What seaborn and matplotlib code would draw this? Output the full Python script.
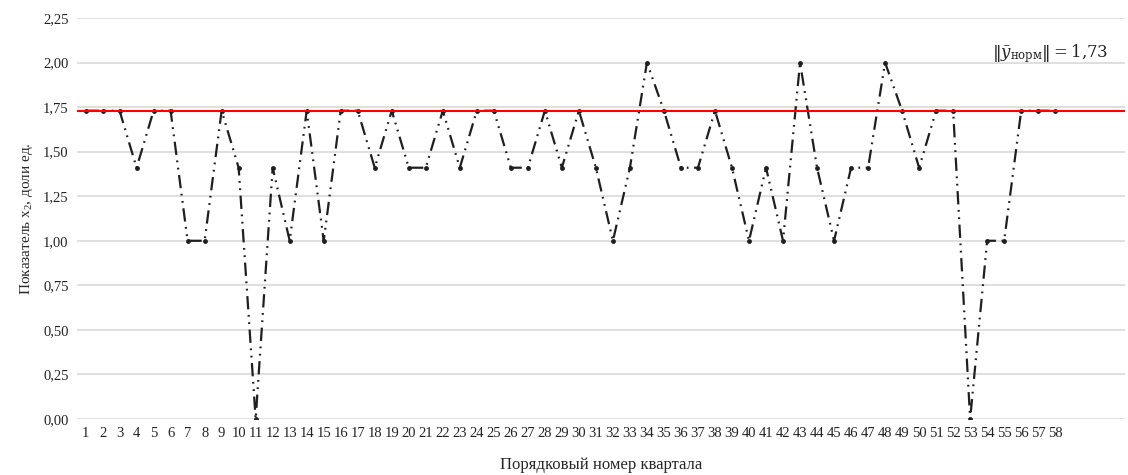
import numpy as np
import pandas as pd
import matplotlib
matplotlib.use("Agg")
import matplotlib.pyplot as plt
import seaborn as sns

# Quarter numbers and indicator x2 values
quarters = list(range(1, 59))
x2_values = [
    1.73, 1.73, 1.73, 1.41, 1.73, 1.73, 1.00, 1.00, 1.73, 1.41,
    0.00, 1.41, 1.00, 1.73, 1.00, 1.73, 1.73, 1.41, 1.73, 1.41,
    1.41, 1.73, 1.41, 1.73, 1.73, 1.41, 1.41, 1.73, 1.41, 1.73,
    1.41, 1.00, 1.41, 2.00, 1.73, 1.41, 1.41, 1.73, 1.41, 1.00,
    1.41, 1.00, 2.00, 1.41, 1.00, 1.41, 1.41, 2.00, 1.73, 1.41,
    1.73, 1.73, 0.00, 1.00, 1.00, 1.73, 1.73, 1.73,
]
norm_value = 1.73
y_ticks = [0.0, 0.25, 0.5, 0.75, 1.0, 1.25, 1.5, 1.75, 2.0, 2.25]

sns.set_theme(style="white")
plt.rcParams["font.family"] = ["Liberation Serif", "DejaVu Serif"]
plt.rcParams["mathtext.fontset"] = "custom"
plt.rcParams["mathtext.rm"] = "Liberation Serif"
plt.rcParams["mathtext.it"] = "Liberation Serif:italic"

df = pd.DataFrame({"quarter": quarters, "x2": x2_values})

fig = plt.figure(figsize=(11.28, 4.75), dpi=100)
ax = fig.add_axes([0.0683, 0.118, 0.929, 0.844])

for t in y_ticks:
    ax.axhline(t, color="#d9d9d9", lw=1.2, zorder=0)

sns.lineplot(data=df, x="quarter", y="x2", ax=ax, color="#1f1f1f",
             linewidth=1.6, marker="o", markersize=3.5,
             markeredgewidth=0, linestyle=(0, (6, 2.5, 0.8, 2.5, 0.8, 2.5)),
             zorder=2)
ax.axhline(norm_value, color="#ff0000", lw=1.5, zorder=3)

# annotation with the norm of the normative vector
ax.text(0.984, 0.912,
        r"$\left\Vert\bar{y}_{\mathrm{норм}}\right\Vert = 1{,}73$",
        transform=ax.transAxes, ha="right", va="center", fontsize=12,
        math_fontfamily="dejavuserif")

ax.set_xlim(0.5, 62.1)
ax.set_ylim(0, 2.25)
ax.set_xticks(quarters)
ax.set_xticklabels([str(q) for q in quarters], fontsize=10.5)
ax.set_yticks(y_ticks)
ax.set_yticklabels([f"{t:.2f}".replace(".", ",") for t in y_ticks], fontsize=10.5)
ax.tick_params(axis="both", length=0, pad=6, colors="#222222")
for s in ax.spines.values():
    s.set_visible(False)

ax.set_xlabel("Порядковый номер квартала", fontsize=12, labelpad=12)
ax.set_ylabel("Показатель x$_2$, доли ед.", fontsize=11, labelpad=6)

fig.savefig("out.png", dpi=100)
